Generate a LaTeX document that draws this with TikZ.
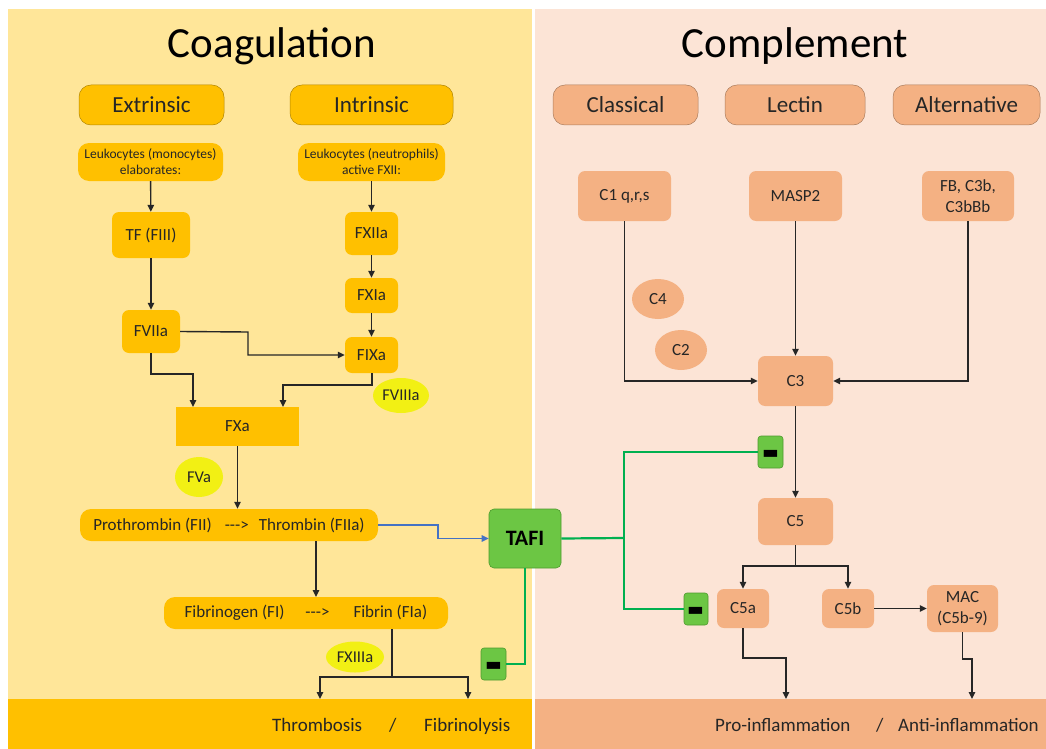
\documentclass[tikz,border=0pt]{standalone}
\usepackage{fontspec}
\usepackage{graphicx}
\setmainfont{Carlito}
\usetikzlibrary{arrows.meta,shapes.geometric}
\definecolor{bgL}{HTML}{FFE699}
\definecolor{bgR}{HTML}{FCE4D6}
\definecolor{orng}{HTML}{FFC000}
\definecolor{salm}{HTML}{F4B183}
\definecolor{ylw}{HTML}{F2F014}
\definecolor{grn}{HTML}{6CC644}
\definecolor{grnD}{HTML}{4E9A2E}
\definecolor{gline}{HTML}{00B050}
\definecolor{txt}{HTML}{262626}
\definecolor{bl}{HTML}{4472C4}
\newcommand\fsz[1]{\fontsize{#1}{\fpeval{#1*1.2}}\selectfont}
\newcommand\minusmark{\smash{\raisebox{-24.4pt}{\scalebox{1.8}[3.8]{\bfseries –}}}}
\tikzset{
  sz/.style 2 args={minimum width=#1pt, minimum height=#2pt},
  obox/.style={fill=orng, rounded corners=7pt, inner sep=0pt, text=txt, align=center, font=\fsz{17}},
  sbox/.style={fill=salm, rounded corners=7pt, inner sep=0pt, text=txt, align=center, font=\fsz{17}},
  ohdr/.style={obox, rounded corners=12pt, draw=orng!70!black, line width=0.5pt, font=\fsz{23}},
  shdr/.style={sbox, rounded corners=12pt, draw=salm!70!black, line width=0.5pt, font=\fsz{23}},
  yell/.style={ellipse, fill=ylw, inner sep=0pt, text=txt, font=\fsz{16.5}},
  sell/.style={ellipse, fill=salm, inner sep=0pt, text=txt, font=\fsz{17}},
  gbox/.style={fill=grn, draw=grnD, line width=0.6pt, rounded corners=3pt, inner sep=0pt, text=black},
  mbox/.style={gbox, font=\fsz{21}},
  arr/.style={draw=txt, line width=1.4pt, -{Triangle[length=7pt,width=6.5pt]}},
  ln/.style={draw=txt, line width=1.4pt},
  gl/.style={draw=gline, line width=2.2pt},
  btxt/.style={text=txt, font=\fsz{19}, inner sep=0pt, anchor=base west},
}
\begin{document}
\begin{tikzpicture}[x=1pt,y=-1pt]
\useasboundingbox (0,0) rectangle (1046,749);
% panels
\fill[bgL] (8,9) rectangle (532,749);
\fill[bgR] (535,9) rectangle (1046,749);
\fill[orng] (8,699) rectangle (532,749);
\fill[salm] (535,699) rectangle (1046,749);
% titles
\node[anchor=base, font=\fsz{43}, inner sep=0pt] (tcoag) at (272,58) {Coagulation};
\node[anchor=base, font=\fsz{43}, inner sep=0pt] (tcomp) at (795,58) {Complement};
% headers
\node[ohdr, sz={145}{40}] (ext) at (151.5,105) {Extrinsic};
\node[ohdr, sz={163}{40}] (intr) at (371.5,105) {Intrinsic};
\node[shdr, sz={145}{40}] (cls) at (625.5,105) {Classical};
\node[shdr, sz={140}{40}] (lec) at (795,105) {Lectin};
\node[shdr, sz={147}{40}] (alt) at (966.5,105) {Alternative};
% coagulation nodes
\node[obox, sz={145}{38}, font=\fsz{13.5}, rounded corners=11pt] (leuk1) at (150.5,162) {Leukocytes (monocytes)\\elaborates:};
\node[obox, sz={147}{38}, font=\fsz{13.5}, rounded corners=11pt] (leuk2) at (371.5,162) {Leukocytes (neutrophils)\\active FXII:};
\node[obox, sz={78}{46}] (tf) at (151,235) {TF (FIII)};
\node[obox, sz={53}{43}] (fxiia) at (371.5,233.5) {FXIIa};
\node[obox, sz={53}{35}] (fxia) at (371.5,295.5) {FXIa};
\node[obox, sz={53}{36}] (fixa) at (371.5,355) {FIXa};
\node[obox, sz={58}{43}] (fviia) at (151,331.5) {FVIIa};
\node[yell, sz={56}{35}] (fviiia) at (401,395.5) {FVIIIa};
\node[obox, sz={123}{39}, rounded corners=0pt] (fxa) at (237.5,426.5) {FXa};
\node[yell, sz={48}{40}] (fva) at (199,477) {FVa};
\node[obox, sz={298}{32}, rounded corners=11pt] (proth) at (229,525) {Prothrombin (FII)\hspace{13pt}-{}-{}->\hspace{10pt}Thrombin (FIIa)};
\node[obox, sz={284}{32}, rounded corners=11pt] (fibr) at (306,613) {Fibrinogen (FI)\hspace{21pt}-{}-{}->\hspace{24pt}Fibrin (FIa)};
\node[yell, sz={58}{31}] (fxiiia) at (355,657) {FXIIIa};
\node[gbox, sz={72}{59}, rounded corners=5pt, font=\fsz{22}\bfseries] (tafi) at (525,538.5) {TAFI};
\node[mbox, sz={25}{32}] (m1) at (770.5,452) {\minusmark};
\node[mbox, sz={24}{32}] (m2) at (696,609) {\minusmark};
\node[mbox, sz={25}{32}] (m3) at (493.5,664) {\minusmark};
% complement nodes
\node[sbox, sz={93}{50}] (c1) at (624.5,196) {C1 q,r,s};
\node[sbox, sz={93}{50}] (masp) at (795.5,196) {MASP2};
\node[sbox, sz={92}{50}] (fb) at (968,196) {FB, C3b,\\C3bBb};
\node[sell, sz={52}{40}] (c4) at (658,299) {C4};
\node[sell, sz={52}{40}] (c2) at (681,350) {C2};
\node[sbox, sz={75}{50}] (c3) at (795.5,381) {C3};
\node[sbox, sz={75}{47}] (c5) at (795.5,521.5) {C5};
\node[sbox, sz={52}{39}] (c5a) at (743,608.5) {C5a};
\node[sbox, sz={52}{39}] (c5b) at (848,608.5) {C5b};
\node[sbox, sz={71}{47}] (mac) at (962.5,608.5) {MAC\\(C5b-9)};
% bottom texts
\node[btxt] (thr) at (272,731) {Thrombosis};
\node[btxt] (sl1) at (389,731) {/};
\node[btxt] (fib) at (424,731) {Fibrinolysis};
\node[btxt] (pro) at (715,731) {Pro-inflammation};
\node[btxt] (sl2) at (876,731) {/};
\node[btxt] (anti) at (898,731) {Anti-inflammation};
% coordinates
\coordinate (pThr) at (320,699);
\coordinate (pFib) at (468,699);
\coordinate (pPro) at (786,699);
\coordinate (pAnti) at (972,699);
\coordinate (bb) at (438,525);
\coordinate (gj) at (624,538);
% coagulation arrows
\draw[arr] (leuk1) -- (tf);
\draw[arr] (tf) -- (fviia);
\draw[arr] (leuk2) -- (fxiia);
\draw[arr] (fxiia) -- (fxia);
\draw[arr] (fxia) -- (fixa);
\draw[arr] (fviia.east) -- (248,332) |- (fixa.west);
\draw[arr] (fviia.south) |- (193,374) -- (193,407);
\draw[arr] (372,373) |- (283,385) -- (283,407);
\draw[arr] (fxa.south) -- (proth.north -| fxa.south);
\draw[arr] (316,541) -- (316,597);
\draw[ln] (392,629) -- (392,677);
\draw[arr] (392,677) -| (pThr);
\draw[arr] (392,677) -| (pFib);
\draw[draw=bl, line width=1.2pt, -{Triangle[length=7pt,width=6.5pt]}] (proth.east) -- (bb) |- (tafi.west);
% green inhibition lines
\draw[gl] (tafi.east) -- (gj);
\draw[gl] (m1.west) -| (gj);
\draw[gl] (m2.west) -| (gj);
\draw[gl] (tafi.south) |- (m3.east);
% complement arrows
\draw[arr] (c1.south) |- (c3.west);
\draw[arr] (masp) -- (c3);
\draw[arr] (fb.south) |- (c3.east);
\draw[arr] (c3) -- (c5);
\draw[ln] (c5.south) -- (795.5,566);
\draw[arr] (795.5,566) -| (c5a.north);
\draw[arr] (795.5,566) -| (c5b.north);
\draw[arr] (c5b) -- (mac);
\draw[arr] (c5a.south) |- (786,658) -- (pPro);
\draw[arr] (mac.south) |- (972,659) -- (pAnti);
\end{tikzpicture}
\end{document}
